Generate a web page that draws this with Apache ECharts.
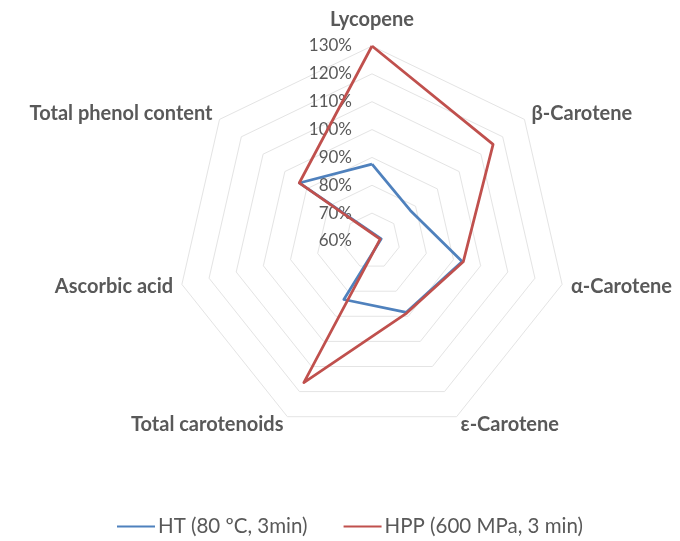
<!DOCTYPE html>
<html>
<head>
<meta charset="utf-8">
<script src="https://cdn.jsdelivr.net/npm/echarts@6/dist/echarts.min.js"></script>
<style>
  html, body { margin: 0; padding: 0; background: #ffffff; }
  #chart { width: 680px; height: 541px; }
</style>
</head>
<body>
<div id="chart"></div>
<script>
// Indicators, listed counter-clockwise starting from the top axis
const indicators = ['Lycopene', 'Total phenol content', 'Ascorbic acid', 'Total carotenoids', 'ε-Carotene', 'α-Carotene', 'β-Carotene'];
const seriesNames = ['HT (80 ºC, 3min)', 'HPP (600 MPa, 3 min)'];
// Relative retention (%) per indicator
const htValues = [87.6, 93.4, 56.6, 83.3, 88.4, 93.2, 77.6];
const hppValues = [130, 93.4, 57.0, 116.4, 88.7, 93.6, 115.6];
// Radial scale
const axisMin = 60;
const axisMax = 130;
const axisStep = 10;

const FONT = 'Lato';
const GRAY = '#595959';
const BLUE = '#4F81BD';
const RED = '#C0504D';

const chart = echarts.init(document.getElementById('chart'), null, { renderer: 'canvas' });

chart.setOption({
  backgroundColor: '#ffffff',
  animation: false,
  textStyle: { fontFamily: FONT },
  legend: {
    data: seriesNames.map(n => ({ name: n, icon: 'rect' })),
    left: 112,
    top: 511,
    itemWidth: 38,
    itemHeight: 2,
    itemGap: 36,
    textStyle: { fontFamily: FONT, fontSize: 20.5, color: GRAY, padding: [0, 0, 0, -2] }
  },
  // Value axis used only to print the radial tick labels along the top spoke
  grid: { left: 372, top: 46, width: 1, height: 195 },
  xAxis: { type: 'value', show: false },
  yAxis: {
    type: 'value',
    min: axisMin,
    max: axisMax,
    interval: axisStep,
    axisLine: { show: false },
    axisTick: { show: false },
    splitLine: { show: false },
    axisLabel: {
      formatter: '{value}%',
      margin: 20,
      color: GRAY,
      fontFamily: FONT,
      fontSize: 17
    }
  },
  radar: {
    center: [372, 241],
    radius: 195,
    startAngle: 90,
    splitNumber: (axisMax - axisMin) / axisStep,
    shape: 'polygon',
    nameGap: 9,
    indicator: indicators.map(n => ({ name: n, min: axisMin, max: axisMax })),
    axisName: {
      color: GRAY,
      fontFamily: FONT,
      fontWeight: 'bold',
      fontSize: 20,
      formatter: n => (n === 'Lycopene' ? '{top|' + n + '}' : n),
      rich: {
        top: { color: GRAY, fontFamily: FONT, fontWeight: 'bold', fontSize: 20, padding: [0, 0, 7, 0] }
      }
    },
    axisLine: { show: false },
    axisTick: { show: false },
    axisLabel: { show: false },
    splitArea: { show: false },
    splitLine: { lineStyle: { color: '#e4e4e4', width: 1 } }
  },
  series: [
    {
      name: seriesNames[0],
      type: 'radar',
      symbol: 'none',
      lineStyle: { color: BLUE, width: 2.75 },
      itemStyle: { color: BLUE },
      data: [{ name: seriesNames[0], value: htValues }]
    },
    {
      name: seriesNames[1],
      type: 'radar',
      symbol: 'none',
      lineStyle: { color: RED, width: 2.75 },
      itemStyle: { color: RED },
      data: [{ name: seriesNames[1], value: hppValues }]
    }
  ]
});
</script>
</body>
</html>
